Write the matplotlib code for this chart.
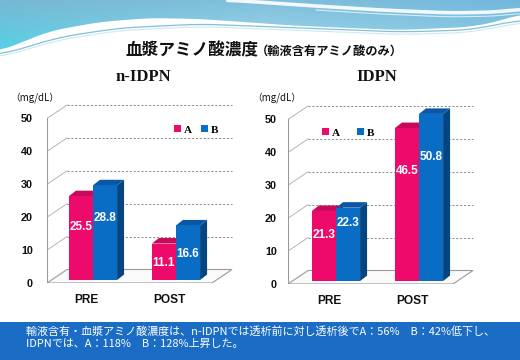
import numpy as np
import matplotlib
matplotlib.use("Agg")
import matplotlib.pyplot as plt
from matplotlib.patches import Polygon, Rectangle

# ---------------- data ----------------
categories = ['PRE', 'POST']
series = ['A', 'B']
nidpn_A = [25.5, 11.1]
nidpn_B = [28.8, 16.6]
idpn_A = [21.3, 46.5]
idpn_B = [22.3, 50.8]
yticks = [0, 10, 20, 30, 40, 50]

title_main = '血漿アミノ酸濃度'
title_sub = '（輸液含有アミノ酸のみ）'
chart_titles = ['n-IDPN', 'IDPN']
unit_label = '（mg/dL）'
note_1 = '輸液含有・血漿アミノ酸濃度は、n-IDPNでは透析前に対し透析後でA：56%　B：42%低下し、'
note_2 = 'IDPNでは、A：118%　B：128%上昇した。'

# ---------------- style ----------------
W, H = 520, 360
JP = ['Noto Sans CJK JP', 'DejaVu Sans']
SANS = ['Liberation Sans', 'DejaVu Sans']
SERIF = ['Liberation Serif', 'DejaVu Serif']
PINK, PINK_TOP, PINK_SIDE = '#EE0A6B', '#C70A5A', '#9E0847'
BLUE, BLUE_TOP, BLUE_SIDE = '#0A6DC5', '#0A57A5', '#06457F'
BANNER = '#1A6CC4'

PX_PER_UNIT = 3.29
CAT_PX = 83.0

fig = plt.figure(figsize=(W / 100, H / 100), dpi=100)
fig.patch.set_facecolor('white')

# ---------------- background (pixel coordinates) ----------------
bg = fig.add_axes([0, 0, 1, 1])
bg.set_xlim(0, W)
bg.set_ylim(H, 0)
bg.axis('off')

k = np.ones(25) / 25


def smooth(v):
    return np.convolve(np.pad(v, 12, mode='edge'), k, mode='valid')


xs = np.linspace(0, W, 400)
lower = smooth(np.interp(xs, [0, 50, 100, 150, 200, 300, 400, 470, 500, 520],
                         [51, 31, 22, 18, 19, 26, 30, 27, 21, 14]))

stops_x = [0, 260, 520]
top_c = np.array([[0.47, 0.72, 0.83], [0.50, 0.75, 0.86], [0.45, 0.72, 0.86]])
bot_c = np.array([[0.33, 0.82, 0.90], [0.64, 0.86, 0.93], [0.55, 0.80, 0.91]])
gx = np.arange(W)
img = np.zeros((60, W, 3))
for c in range(3):
    trow = np.interp(gx, stops_x, top_c[:, c])
    brow = np.interp(gx, stops_x, bot_c[:, c])
    for r in range(60):
        f = min(r / 50.0, 1.0)
        img[r, :, c] = trow * (1 - f) + brow * f
im = bg.imshow(img, extent=[0, W, 60, 0], aspect='auto', zorder=1)
poly = np.vstack([np.column_stack([xs, lower]), [[W, 0], [0, 0]]])
clip = Polygon(poly, closed=True, transform=bg.transData, facecolor='none', edgecolor='none')
bg.add_patch(clip)
im.set_clip_path(clip)

# white swoosh inside the band
sw_x = np.linspace(228, 520, 200)
sw_y = smooth(np.interp(sw_x, [228, 300, 380, 450, 500, 520], [0, 5, 10, 13, 12, 9]))
bg.plot(sw_x, sw_y, color='white', lw=2.6, alpha=0.9, zorder=2)
bg.plot(sw_x[60:], sw_y[60:] + 4, color='white', lw=0.8, alpha=0.7, zorder=2)
# thin lines below the band
l_x = np.linspace(0, W, 300)
l_y = smooth(np.interp(l_x, [0, 60, 120, 200, 300, 400, 470, 520],
                       [55, 37, 28, 24, 28, 32, 30, 20]))
bg.plot(l_x, l_y, color='#6FB4D2', lw=0.9, alpha=0.85, zorder=2)
bg.plot(l_x, l_y + 2.5, color='#BFE4F0', lw=0.8, alpha=0.8, zorder=2)

# titles
bg.text(125, 55, title_main, family=JP, fontsize=12, fontweight='bold',
        ha='left', va='baseline', color='#111111', zorder=3)
bg.text(256, 55, title_sub, family=JP, fontsize=8.8, fontweight='bold',
        ha='left', va='baseline', color='#111111', zorder=3)
bg.text(143, 77, chart_titles[0], family=SERIF, fontsize=12, fontweight='bold',
        ha='center', va='center', color='#111111')
bg.text(377, 77, chart_titles[1], family=SERIF, fontsize=12, fontweight='bold',
        ha='center', va='center', color='#111111')
bg.text(10, 98, unit_label, family=JP, fontsize=7, ha='left', va='center', color='#111111')
bg.text(252, 98, unit_label, family=JP, fontsize=7, ha='left', va='center', color='#111111')

# bottom banner
bg.add_patch(Rectangle((0, 322), W, 38, facecolor=BANNER, edgecolor='none', zorder=1))
bg.text(26, 332, note_1, family=JP, fontsize=7.95, color='white', ha='left', va='center', zorder=3)
bg.text(26, 344, note_2, family=JP, fontsize=7.95, color='white', ha='left', va='center', zorder=3)


# ---------------- charts ----------------
def make_chart(x0, y0, cx, vals_a, vals_b, frac_a, frac_b, ypad, leg_xy, colsp):
    right_px = x0 + 195
    top_px = 100
    ax = fig.add_axes([x0 / W, (H - y0) / H, (right_px - x0) / W, (y0 - top_px) / H])
    xl = (x0 - cx) / CAT_PX
    ax.set_xlim(xl, (right_px - cx) / CAT_PX)
    ax.set_ylim(0, (y0 - top_px) / PX_PER_UNIT)
    ax.patch.set_alpha(0)
    for s in ax.spines.values():
        s.set_visible(False)

    dxw = 20 / CAT_PX
    dyw = 13.5 / PX_PER_UNIT
    xfr = (x0 + 165 - cx) / CAT_PX

    # floor
    ax.add_patch(Polygon([(xl, 0), (xfr, 0), (xfr + dxw, dyw), (xl + dxw, dyw)],
                         closed=True, facecolor='#FAFAFA', edgecolor='#9A9A9A', lw=0.8, zorder=1))
    # side wall diagonals and back wall dashed grid
    for t in yticks:
        ax.plot([xl, xl + dxw], [t, t + dyw], color='#B4B4B4', lw=0.7, zorder=1)
    for t in yticks[1:]:
        ax.plot([xl + dxw, xfr + dxw], [t + dyw, t + dyw], color='#8C8C8C', lw=0.7,
                ls=(0, (2.2, 1.8)), zorder=1)
    ax.plot([xl, xl], [0, yticks[-1]], color='#9A9A9A', lw=0.8, zorder=1)

    # bars
    lift = 0.9
    w = 0.29
    ddx = 7 / CAT_PX
    ddy = 5.5 / PX_PER_UNIT
    xpos = np.arange(len(categories))
    for vals, off, fc, tc, sc, lab, fr in [(vals_a, -0.145, PINK, PINK_TOP, PINK_SIDE, series[0], frac_a),
                                           (vals_b, 0.145, BLUE, BLUE_TOP, BLUE_SIDE, series[1], frac_b)]:
        xc = xpos + off
        for x, v in zip(xc, vals):
            xr = x + w / 2
            xL = x - w / 2
            ax.add_patch(Polygon([(xr, lift), (xr + ddx, lift + ddy), (xr + ddx, lift + v + ddy), (xr, lift + v)],
                                 closed=True, facecolor=sc, edgecolor='none', zorder=3))
            ax.add_patch(Polygon([(xL, lift + v), (xr, lift + v), (xr + ddx, lift + v + ddy), (xL + ddx, lift + v + ddy)],
                                 closed=True, facecolor=tc, edgecolor='none', zorder=3))
        ax.bar(xc, vals, width=w, bottom=lift, color=fc, label=lab, zorder=4, linewidth=0)
        for x, v, f in zip(xc, vals, fr):
            ax.text(x, lift + v * f, f'{v:.1f}', family=SANS, fontsize=8.5, fontweight='bold',
                    color='white', ha='center', va='center', zorder=5)

    ax.set_yticks(yticks)
    ax.set_yticklabels([str(t) for t in yticks], family=SANS, fontsize=7.8, fontweight='bold')
    ax.tick_params(axis='y', length=0, pad=ypad, colors='#111111')
    ax.set_xticks(xpos - 0.085)
    ax.set_xticklabels(categories, family=SANS, fontsize=8.6, fontweight='bold')
    ax.tick_params(axis='x', length=0, pad=8.2, colors='#111111')

    ax.legend(loc='center left', bbox_to_anchor=leg_xy, bbox_transform=ax.transData,
              ncol=2, frameon=False, handlelength=0.6, handleheight=0.6,
              handletextpad=0.25, columnspacing=colsp, borderpad=0, borderaxespad=0,
              prop={'family': SERIF, 'weight': 'bold', 'size': 8})
    return ax


make_chart(47, 283, 93, nidpn_A, nidpn_B, [0.63, 0.47], [0.66, 0.47], 10.0,
           ((174 - 93) / CAT_PX, (283 - 130) / PX_PER_UNIT), 0.9)
make_chart(288, 284, 336, idpn_A, idpn_B, [0.66, 0.72], [0.79, 0.74], 8.0,
           ((322 - 336) / CAT_PX, (284 - 133) / PX_PER_UNIT), 1.6)

fig.savefig('out.png', dpi=100, facecolor='white')
